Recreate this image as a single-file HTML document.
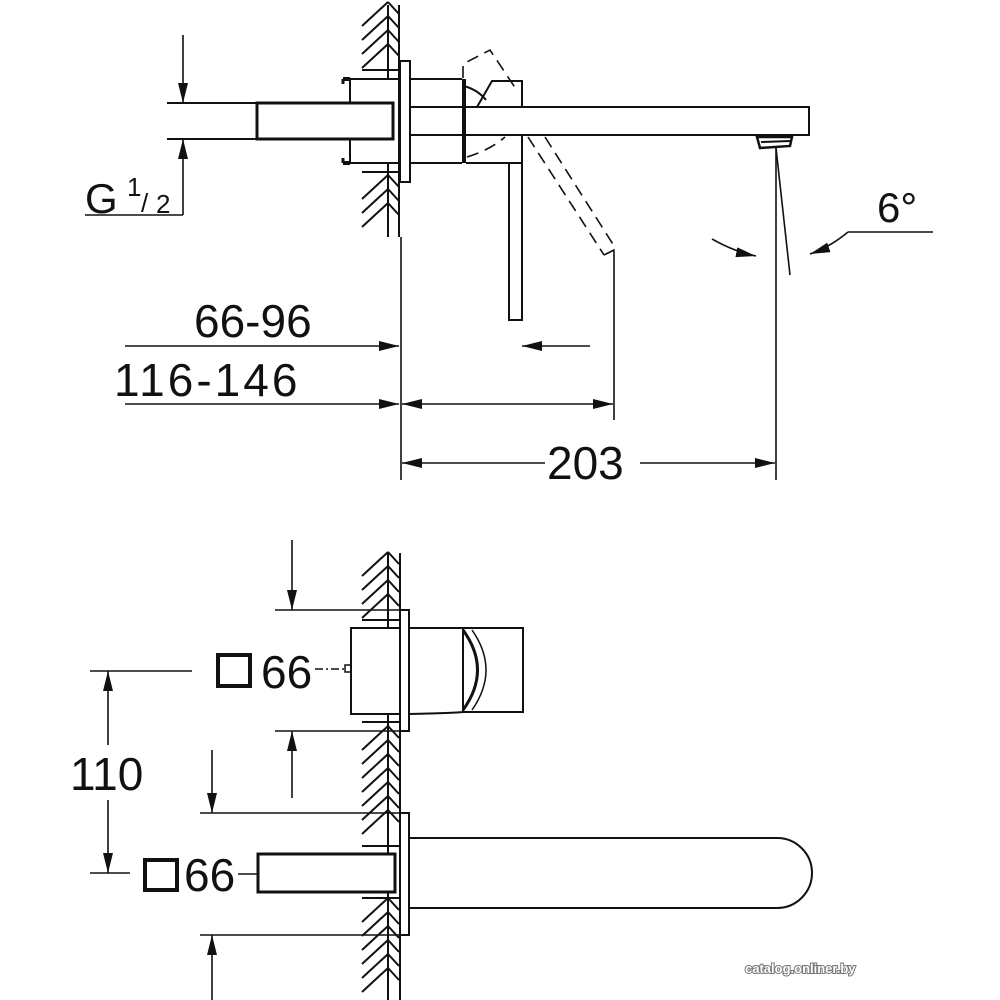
<!DOCTYPE html>
<html><head><meta charset="utf-8"><style>
html,body{margin:0;padding:0;background:#fff;}
svg{display:block;}
text{font-family:"Liberation Sans",Arial,sans-serif;fill:#111;}
</style></head><body>
<svg width="1000" height="1000" viewBox="0 0 1000 1000" xmlns="http://www.w3.org/2000/svg">
<defs>
<marker id="a" viewBox="0 0 20 10" refX="20" refY="5" markerWidth="20" markerHeight="10" markerUnits="userSpaceOnUse" orient="auto"><path d="M0,0 L20,5 L0,10z" fill="#111"/></marker>
<g id="hs"><line x1="362" y1="24" x2="388" y2="0"/><line x1="388" y1="0" x2="399" y2="12"/></g>
</defs>
<g stroke="#111" stroke-width="2" fill="none">
<use href="#hs" y="2"/><use href="#hs" y="16"/><use href="#hs" y="30"/><use href="#hs" y="44"/>
<use href="#hs" y="175"/><use href="#hs" y="189"/><use href="#hs" y="203"/>
<use href="#hs" y="552"/><use href="#hs" y="566"/><use href="#hs" y="580"/><use href="#hs" y="594"/>
<use href="#hs" y="726"/><use href="#hs" y="740"/><use href="#hs" y="754"/><use href="#hs" y="768"/><use href="#hs" y="782"/><use href="#hs" y="796"/><use href="#hs" y="810"/>
<use href="#hs" y="898"/><use href="#hs" y="912"/><use href="#hs" y="926"/><use href="#hs" y="940"/><use href="#hs" y="954"/><use href="#hs" y="968"/>
</g>
<g stroke="#111" stroke-width="2" fill="none">
<line x1="399" y1="5" x2="399" y2="237"/>
<line x1="388" y1="5" x2="388" y2="237"/>
<rect x="400" y="61" width="10" height="121" fill="#fff"/>
<rect x="350" y="79" width="49" height="84" fill="#fff"/>
<line x1="343" y1="79" x2="350" y2="79" stroke-width="4"/>
<line x1="343" y1="163" x2="350" y2="163" stroke-width="4"/>
<line x1="343" y1="79" x2="343" y2="84" stroke-width="3"/>
<line x1="343" y1="163" x2="343" y2="158" stroke-width="3"/>
<line x1="362" y1="70" x2="399" y2="70"/>
<line x1="362" y1="172" x2="399" y2="172"/>
<rect x="257" y="103" width="136" height="36" stroke-width="3" fill="#fff"/>
<line x1="393" y1="103" x2="393" y2="139"/>
<line x1="167" y1="103" x2="257" y2="103"/>
<line x1="167" y1="139" x2="257" y2="139"/>
<line x1="410" y1="79" x2="462" y2="79"/>
<line x1="410" y1="163" x2="462" y2="163"/>
<line x1="464" y1="79" x2="464" y2="163" stroke-width="4"/>
<rect x="410" y="107" width="399" height="28"/>
<path d="M477,107 L492,81 L522,81 L522,107"/>
<path d="M464,86 Q478,90 486,100" />
<line x1="466" y1="163" x2="522" y2="163"/>
<line x1="522" y1="135" x2="522" y2="163"/>
<rect x="509" y="163" width="13" height="157"/>
<path d="M757,137 L792,137 L790,146 L760,148 Z" stroke-width="2.5"/>
<line x1="761" y1="142" x2="790" y2="141"/>
<g stroke-dasharray="12,7" stroke-width="1.6">
<path d="M463,78 L463,64 L490,50 L518,92"/>
<line x1="528" y1="137" x2="604" y2="255"/>
<line x1="545" y1="137" x2="616" y2="249"/>
<path d="M604,255 L616,249"/>
<path d="M467,157 Q490,150 505,137"/>
</g>
<line x1="614" y1="251" x2="614" y2="420" stroke-width="1.6"/>
<line x1="776" y1="148" x2="776" y2="480" stroke-width="1.6"/>
<line x1="776" y1="148" x2="790" y2="275" stroke-width="1.6"/>
<path d="M712,239 Q735,252 756,256" stroke-width="1.6" marker-end="url(#a)"/>
<path d="M848,232 L933,232" stroke-width="1.6"/>
<path d="M848,232 Q830,247 810,254" stroke-width="1.6" marker-end="url(#a)"/>
<line x1="183" y1="35" x2="183" y2="103" stroke-width="1.6" marker-end="url(#a)"/>
<line x1="183" y1="215" x2="183" y2="139" stroke-width="1.6" marker-end="url(#a)"/>
<line x1="85" y1="215" x2="183" y2="215" stroke-width="1.6"/>
<line x1="401" y1="237" x2="401" y2="480" stroke-width="1.6"/>
<line x1="125" y1="346" x2="399" y2="346" stroke-width="1.6" marker-end="url(#a)"/>
<line x1="590" y1="346" x2="522" y2="346" stroke-width="1.6" marker-end="url(#a)"/>
<line x1="125" y1="404" x2="399" y2="404" stroke-width="1.6" marker-end="url(#a)"/>
<line x1="508" y1="404" x2="402" y2="404" stroke-width="1.6" marker-end="url(#a)"/>
<line x1="508" y1="404" x2="613" y2="404" stroke-width="1.6" marker-end="url(#a)"/>
<line x1="545" y1="463" x2="402" y2="463" stroke-width="1.6" marker-end="url(#a)"/>
<line x1="640" y1="463" x2="775" y2="463" stroke-width="1.6" marker-end="url(#a)"/>

<line x1="388" y1="553" x2="388" y2="1000"/>
<line x1="400" y1="553" x2="400" y2="1000"/>
<rect x="400" y="610" width="9" height="121" fill="#fff"/>
<rect x="351" y="628" width="49" height="86" fill="#fff"/>
<rect x="345" y="665" width="6" height="7" stroke-width="1.5"/>
<line x1="362" y1="620" x2="400" y2="620"/>
<line x1="362" y1="722" x2="400" y2="722"/>
<path d="M409,628 L523,628 L523,712 L463,712 Q455,713 409,714"/>
<line x1="463" y1="628" x2="463" y2="712"/>
<path d="M463,630 Q492,670 463,710" stroke-width="3"/>
<path d="M472,630 Q500,670 472,710" stroke-width="1.5"/>
<line x1="275" y1="610" x2="400" y2="610" stroke-width="1.6"/>
<line x1="292" y1="540" x2="292" y2="610" stroke-width="1.6" marker-end="url(#a)"/>
<line x1="275" y1="731" x2="400" y2="731" stroke-width="1.6"/>
<line x1="292" y1="798" x2="292" y2="731" stroke-width="1.6" marker-end="url(#a)"/>
<rect x="400" y="813" width="9" height="122" fill="#fff"/>
<line x1="362" y1="846" x2="400" y2="846"/>
<line x1="362" y1="898" x2="400" y2="898"/>
<rect x="258" y="854" width="137" height="38" stroke-width="3" fill="#fff"/>
<line x1="395" y1="854" x2="395" y2="892"/>
<path d="M409,838 L777,838 A35,35 0 0 1 777,908 L409,908"/>
<line x1="200" y1="813" x2="400" y2="813" stroke-width="1.6"/>
<line x1="212" y1="750" x2="212" y2="813" stroke-width="1.6" marker-end="url(#a)"/>
<line x1="200" y1="935" x2="400" y2="935" stroke-width="1.6"/>
<line x1="212" y1="1000" x2="212" y2="935" stroke-width="1.6" marker-end="url(#a)"/>
<line x1="90" y1="671" x2="192" y2="671" stroke-width="1.6"/>
<line x1="90" y1="873" x2="130" y2="873" stroke-width="1.6"/>
<line x1="108" y1="745" x2="108" y2="671" stroke-width="1.6" marker-end="url(#a)"/>
<line x1="108" y1="800" x2="108" y2="873" stroke-width="1.6" marker-end="url(#a)"/>
<rect x="218" y="655" width="32" height="31" stroke-width="4"/>
<line x1="315" y1="669" x2="345" y2="669" stroke-width="1.5" stroke-dasharray="8,3,2,3"/>
<rect x="145" y="860" width="32" height="30" stroke-width="4"/>
<line x1="238" y1="874" x2="258" y2="874" stroke-width="1.6"/>
</g>
<text x="85" y="213" font-size="42">G</text>
<text x="127" y="196" font-size="26">1</text>
<text x="141" y="212" font-size="26">/</text>
<text x="156" y="213" font-size="26">2</text>
<text x="877" y="222" font-size="42">6°</text>
<text x="194" y="337" font-size="46">66-96</text>
<text x="114" y="396" font-size="46" letter-spacing="3">116-146</text>
<text x="547" y="479" font-size="46">203</text>
<text x="261" y="688" font-size="46">66</text>
<text x="184" y="891" font-size="46">66</text>
<text x="70" y="790" font-size="46">110</text>
<text x="745" y="973" font-size="13" font-weight="bold" style="fill:#fff;stroke:#777;stroke-width:2;paint-order:stroke">catalog.onliner.by</text>
</svg>
</body></html>
